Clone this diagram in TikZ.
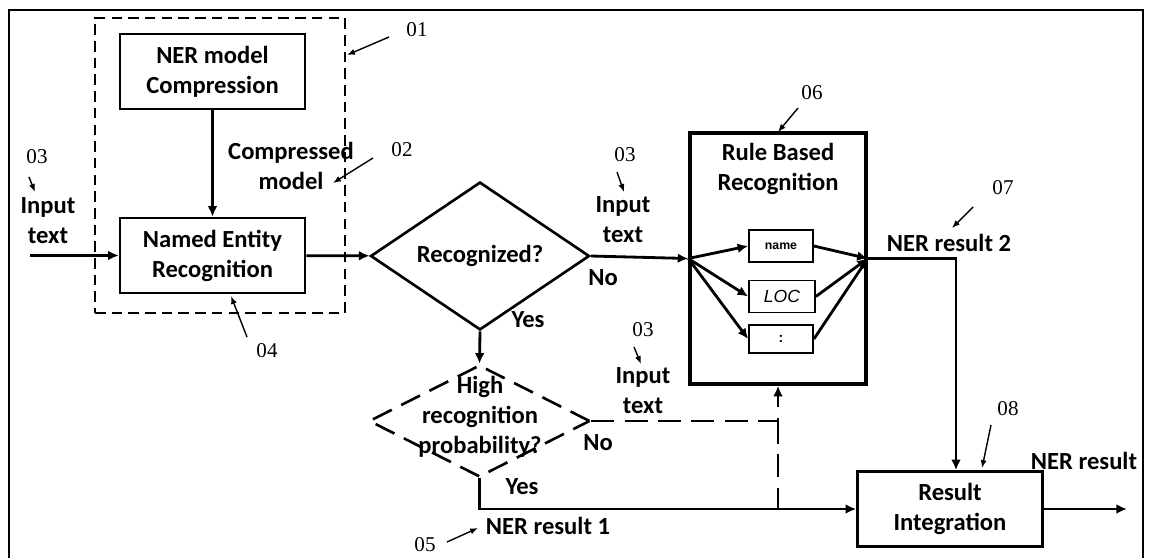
\documentclass[tikz,border=0pt]{standalone}
\usepackage{fontspec}
\setmainfont{Carlito}
\newfontfamily\numfont{Liberation Serif}
\newfontfamily\smallsans{Liberation Sans}
\usetikzlibrary{shapes.geometric,arrows.meta,calc}
\newcommand{\figfont}{\fontsize{14}{17}\selectfont\bfseries}

\begin{document}
\begin{tikzpicture}[
    x=0.02cm, y=-0.02cm,
    box/.style={rectangle, draw, line width=1.5pt, minimum width=3.7cm, minimum height=1.5cm, align=center, font=\figfont},
    rulebox/.style={rectangle, draw, line width=2pt, minimum width=3.52cm, minimum height=5.02cm},
    small/.style={rectangle, draw, line width=1pt, minimum width=1.28cm, minimum height=0.64cm, inner sep=0pt},
    choice/.style={diamond, draw, line width=1.5pt, minimum width=4.38cm, minimum height=2.04cm, inner sep=0pt, font=\figfont},
    dchoice/.style={diamond, draw, line width=1.5pt, dash pattern=on 12pt off 6pt, minimum width=4.42cm, minimum height=2.24cm, inner sep=0pt},
    group/.style={rectangle, draw, line width=0.9pt, dash pattern=on 6pt off 3.5pt, minimum width=5cm, minimum height=5.9cm},
    txt/.style={align=center, inner sep=0pt, font=\figfont},
    num/.style={inner sep=0pt, font=\numfont\fontsize{12}{14}\selectfont},
    arrow/.style={line width=1.6pt, ->, >={Latex[length=6pt,width=5.5pt]}},
    dashline/.style={line width=1.6pt, dash pattern=on 13pt off 6pt},
    ptr/.style={line width=0.8pt, ->, >={Latex[length=4.5pt,width=3.5pt]}}
]
\useasboundingbox (0,0) rectangle (1152,558);

% Frame
\draw[line width=1pt] (9,558) -- (9,10) -- (1143,10) -- (1143,558);

% Nodes
\node[group] (grp) at (220,165.5) {};
\node[box] (comp) at (212.5,71.5) {NER model\\Compression};
\node[box] (ner) at (212.5,255.5) {Named Entity\\Recognition};
\node[choice] (recog) at (480,256) {Recognized?};
\node[dchoice] (high) at (479.5,421) {};
\node[txt] (hightxt) at (480,417) {High\\recognition\\probability?};
\node[rulebox] (rule) at (778,258.5) {};
\node[txt] (ruletxt) at (778,169) {Rule Based\\Recognition};
\node[small, font=\smallsans\bfseries\fontsize{7}{8}\selectfont] (name) at (781,246) {name};
\node[small, minimum width=1.32cm, font=\smallsans\itshape\fontsize{10}{12}\selectfont] (loc) at (782,296.5) {LOC};
\node[small, minimum height=0.56cm, font=\smallsans\bfseries\fontsize{8}{9}\selectfont] (dots) at (781,339) {:};
\node[box] (result) at (950,509) {Result\\Integration};

% Labels
\node[txt] (in1) at (48,221) {Input\\text};
\node[txt] (in2) at (623,220) {Input\\text};
\node[txt] (in3) at (643,391) {Input\\text};
\node[txt] (cmpd) at (291,166) {Compressed\\model};
\node[txt] (no1) at (603,278) {No};
\node[txt] (yes1) at (528,320) {Yes};
\node[txt] (no2) at (598,443) {No};
\node[txt] (yes2) at (522,487) {Yes};
\node[txt] (res2) at (949,243) {NER result 2};
\node[txt] (res1) at (548,526) {NER result 1};
\node[txt] (resout) at (1084,461) {NER result};

% Numbers
\node[num] (n01) at (417,30) {01};
\node[num] (n02) at (402,150) {02};
\node[num] (n03a) at (37,157) {03};
\node[num] (n03b) at (625,155) {03};
\node[num] (n03c) at (643,330) {03};
\node[num] (n04) at (267,351) {04};
\node[num] (n05) at (425,545) {05};
\node[num] (n06) at (812,93) {06};
\node[num] (n07) at (1003,188) {07};
\node[num] (n08) at (1008,409) {08};

% Free ends
\coordinate (inp) at (30,255.5);
\coordinate (out) at (1127,509);

% Arrows
\draw[arrow] (inp) -- (ner.west);
\draw[arrow] (comp) -- (ner);
\draw[arrow] (ner) -- (recog);
\draw[arrow] (recog.east) -- (rule.west);
\draw[arrow] (rule.west) -- (name.west);
\draw[arrow] (rule.west) -- (loc.west);
\draw[arrow] (rule.west) -- (dots.west);
\draw[arrow] (name.east) -- (rule.east);
\draw[arrow] (loc.east) -- (rule.east);
\draw[arrow] (dots.east) -- (rule.east);
\draw[arrow] (rule.east) -| ($(result.north)+(6,0)$);
\draw[arrow] (recog.south) -- (high.north);
\draw[arrow] (high.south) |- (result.west);
\draw[dashline, ->, >={Latex[length=6pt,width=5.5pt]}] (high.east) -| (rule.south);
\draw[dashline] (rule.south |- high.east) -- (rule.south |- result.west);
\draw[arrow] (result.east) -- (out);

% Pointers
\draw[ptr] (389,37) -- (347,55);
\draw[ptr] (373,158) -- (333,183);
\draw[ptr] (29,177) -- (35,192);
\draw[ptr] (617,172) -- (624,192);
\draw[ptr] (634,347) -- (641,364);
\draw[ptr] (247,337) -- (231,296);
\draw[ptr] (447,542) -- (478,528);
\draw[ptr] (798,108) -- (778,132);
\draw[ptr] (973,207) -- (952,228);
\draw[ptr] (991,425) -- (982,468);

\end{tikzpicture}
\end{document}
